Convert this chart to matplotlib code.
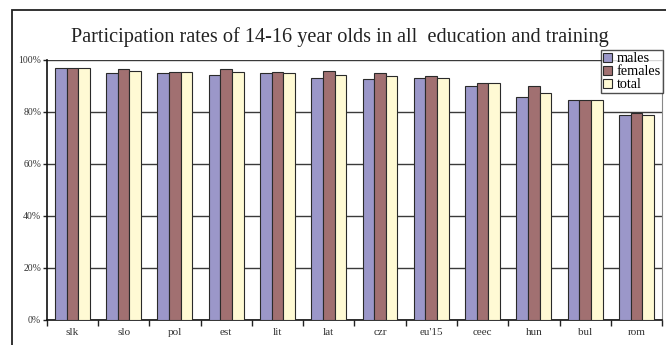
import matplotlib
matplotlib.use("Agg")
import matplotlib.pyplot as plt
from matplotlib.patches import Rectangle
import numpy as np

plt.rcParams['font.family'] = ['Liberation Serif', 'DejaVu Serif']

countries = ['slk', 'slo', 'pol', 'est', 'lit', 'lat', 'czr', "eu'15",
             'ceec', 'hun', 'bul', 'rom']
males = [96.8, 94.9, 94.9, 94.2, 94.9, 93.2, 92.7, 93.2, 89.9, 85.6, 84.5, 79.0]
females = [96.8, 96.4, 95.4, 96.4, 95.4, 95.9, 94.9, 93.7, 91.0, 89.9, 84.5, 79.5]
total = [96.8, 95.9, 95.4, 95.4, 94.9, 94.2, 93.7, 93.2, 91.0, 87.2, 84.5, 79.0]
yticks = [0, 20, 40, 60, 80, 100]

fig = plt.figure(figsize=(6.66, 3.45), dpi=100)
ax = fig.add_axes([0.0701, 0.0725, 0.924, 0.7536])

x = np.arange(len(countries))
w = 0.227
series = [(males, '#9b97c9', 'males'),
          (females, '#a17071', 'females'),
          (total, '#fffad4', 'total')]
for i, (vals, col, lab) in enumerate(series):
    ax.bar(x + (i - 1) * w, vals, w, color=col, edgecolor='#2a2a2a',
           linewidth=0.8, label=lab, zorder=3)

ax.set_xlim(-0.5, len(countries) - 0.5)
ax.set_ylim(0, 100)
ax.set_yticks(yticks)
ax.set_yticklabels(['%d%%' % v for v in yticks], fontsize=7, color='#333333')
ax.yaxis.grid(True, color='#3a3a3a', linewidth=1.0)
ax.set_axisbelow(True)

# ticks between categories, labels centred on them
ax.set_xticks(np.arange(len(countries) + 1) - 0.5)
ax.set_xticklabels([])
ax.set_xticks(x, minor=True)
ax.set_xticklabels(countries, minor=True, fontsize=8, color='#333333')
ax.tick_params(axis='x', which='major', length=4, width=1, color='#222222')
ax.tick_params(axis='x', which='minor', length=0, pad=6)
ax.tick_params(axis='y', length=3, width=1, pad=1, color='#222222')

ax.spines['top'].set_visible(False)
ax.spines['right'].set_color('#888888')
ax.spines['left'].set_color('#111111')
ax.spines['bottom'].set_color('#111111')
ax.spines['left'].set_linewidth(1.2)
ax.spines['bottom'].set_linewidth(1.2)

fig.text(0.511, 1 - 42 / 345, 'Participation rates of 14-16 year olds in all  education and training',
         ha='center', va='baseline', fontsize=14.6, color='#222222')

leg = ax.legend(loc='upper right', bbox_to_anchor=(663 / 666, 1 - 50 / 345),
                bbox_transform=fig.transFigure, fontsize=10.3, frameon=True,
                fancybox=False, handlelength=0.6, handleheight=0.6,
                handletextpad=0.35, borderpad=0.15, labelspacing=0.0,
                borderaxespad=0)
leg.get_frame().set_edgecolor('#222222')
leg.get_frame().set_linewidth(1.0)

# outer chart border
fig.patches.append(Rectangle((12 / 666, -0.1), 1.2, 1 - 10 / 345 + 0.1,
                             transform=fig.transFigure, fill=False,
                             edgecolor='#222222', linewidth=1.3))

fig.savefig('out.png', dpi=100)
